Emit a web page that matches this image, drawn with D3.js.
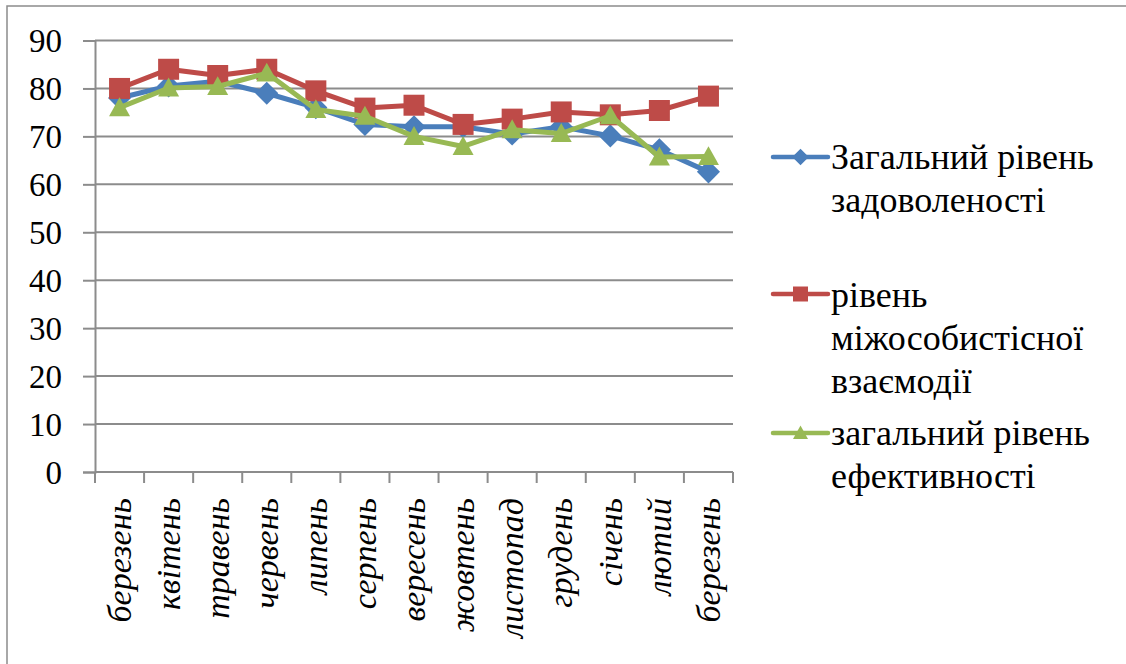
<!DOCTYPE html>
<html>
<head>
<meta charset="utf-8">
<script src="https://cdn.jsdelivr.net/npm/d3@7"></script>
</head>
<body style="margin:0;padding:0;background:#fff">
<svg id="chart" width="1126" height="664" style="display:block;font-family:'Liberation Serif'"></svg>
<script>
// Months of the survey period
const months = ["березень", "квітень", "травень", "червень", "липень", "серпень",
  "вересень", "жовтень", "листопад", "грудень", "січень", "лютий", "березень"];

// Series values, one per month
const satisfaction = [78, 80.5, 81.5, 79, 76, 72.5, 72, 72, 70.5, 72, 70.1, 67.2, 62.6];
const interaction  = [80, 84, 82.7, 84, 79.5, 75.9, 76.5, 72.5, 73.6, 75.1, 74.5, 75.4, 78.4];
const efficiency   = [76, 80.1, 80.4, 83.2, 75.6, 74.2, 70, 67.9, 71.4, 70.6, 74.3, 65.7, 65.8];

const yTicks = [0, 10, 20, 30, 40, 50, 60, 70, 80, 90];

const seriesNames = [
  ["Загальний рівень", "задоволеності"],
  ["рівень", "міжособистісної", "взаємодії"],
  ["загальний рівень", "ефективності"]
];
const seriesColors = ["#4A7EBB", "#BE4B48", "#98B954"];
const seriesShapes = ["diamond", "square", "triangle"];
const seriesValues = [satisfaction, interaction, efficiency];

const svg = d3.select("#chart");
const gray = "#8c8c8c";

// Serif text helper
function serif(sel, size) {
  return sel.attr("font-family", "Liberation Serif")
    .style("font-family", '"Liberation Serif"')
    .attr("font-size", size)
    .attr("fill", "#000");
}

// Outer frame (top and left edges visible)
svg.append("rect")
  .attr("x", 7).attr("y", 6).attr("width", 1140).attr("height", 680)
  .attr("fill", "none").attr("stroke", gray).attr("stroke-width", 1.5);

const plot = { left: 95, right: 733, top: 40.5, bottom: 472 };

const x = d3.scaleBand().domain(d3.range(months.length))
  .range([plot.left, plot.right]).paddingInner(0).paddingOuter(0);
const y = d3.scaleLinear().domain([0, 90]).range([plot.bottom, plot.top]);

// Horizontal gridlines
svg.append("g").selectAll("line").data(yTicks.filter(d => d > 0)).join("line")
  .attr("x1", plot.left).attr("x2", plot.right)
  .attr("y1", d => y(d)).attr("y2", d => y(d))
  .attr("stroke", gray).attr("stroke-width", 2);

// Y axis
const yAxis = svg.append("g").attr("transform", `translate(${plot.left},0)`)
  .call(d3.axisLeft(y).tickValues(yTicks).tickSize(12).tickPadding(21));
yAxis.attr("font-family", "Liberation Serif");
yAxis.select(".domain").attr("stroke", gray).attr("stroke-width", 2);
yAxis.selectAll(".tick line").attr("stroke", gray).attr("stroke-width", 2);
serif(yAxis.selectAll(".tick text"), 33).attr("dy", "0.34em");

// X axis: tick marks at category boundaries
const boundaries = d3.range(months.length + 1).map(i => plot.left + i * x.bandwidth());
svg.append("line")
  .attr("x1", plot.left).attr("x2", plot.right)
  .attr("y1", plot.bottom).attr("y2", plot.bottom)
  .attr("stroke", gray).attr("stroke-width", 2);
svg.append("g").selectAll("line").data(boundaries).join("line")
  .attr("x1", d => d).attr("x2", d => d)
  .attr("y1", plot.bottom).attr("y2", plot.bottom + 11)
  .attr("stroke", gray).attr("stroke-width", 2);

// Rotated italic month labels
serif(svg.append("g").selectAll("text").data(months).join("text"), 34)
  .attr("transform", (d, i) => `translate(${x(i) + x.bandwidth() / 2},498) rotate(-90)`)
  .attr("text-anchor", "end")
  .attr("dy", "0.33em")
  .attr("font-style", "italic")
  .style("font-style", "italic")
  .text(d => d);

// Marker shapes
function markerPath(shape, s) {
  if (shape === "square") {
    return `M${-s/2},${-s/2}h${s}v${s}h${-s}Z`;
  } else if (shape === "diamond") {
    const r = s * 0.55;
    return `M0,${-r}L${r},0L0,${r}L${-r},0Z`;
  } else {
    const h = s * 0.9;
    return `M0,${-h*0.55}L${s/2},${h*0.45}L${-s/2},${h*0.45}Z`;
  }
}

const line = d3.line()
  .x((d, i) => x(i) + x.bandwidth() / 2)
  .y(d => y(d));

seriesValues.forEach((vals, k) => {
  const g = svg.append("g");
  g.append("path").datum(vals)
    .attr("d", line)
    .attr("fill", "none").attr("stroke", seriesColors[k])
    .attr("stroke-width", 5).attr("stroke-linejoin", "round");
  g.selectAll("path.m").data(vals).join("path").attr("class", "m")
    .attr("transform", (d, i) => `translate(${x(i) + x.bandwidth() / 2},${y(d)})`)
    .attr("d", markerPath(seriesShapes[k], 21))
    .attr("fill", seriesColors[k]);
});

// Legend
const legendEntries = [
  { lineY: 157, firstBaseline: 169 },
  { lineY: 294, firstBaseline: 307 },
  { lineY: 433, firstBaseline: 445 }
];
legendEntries.forEach((e, k) => {
  const g = svg.append("g");
  g.append("line").attr("x1", 773).attr("x2", 828)
    .attr("y1", e.lineY).attr("y2", e.lineY)
    .attr("stroke", seriesColors[k]).attr("stroke-width", 4.5).attr("stroke-linecap", "round");
  g.append("path")
    .attr("transform", `translate(800.5,${e.lineY})`)
    .attr("d", markerPath(seriesShapes[k], 15))
    .attr("fill", seriesColors[k]);
  serif(g.selectAll("text").data(seriesNames[k]).join("text"), 36)
    .attr("x", 831).attr("y", (d, i) => e.firstBaseline + i * 43)
    .text(d => d);
});
</script>
</body>
</html>
